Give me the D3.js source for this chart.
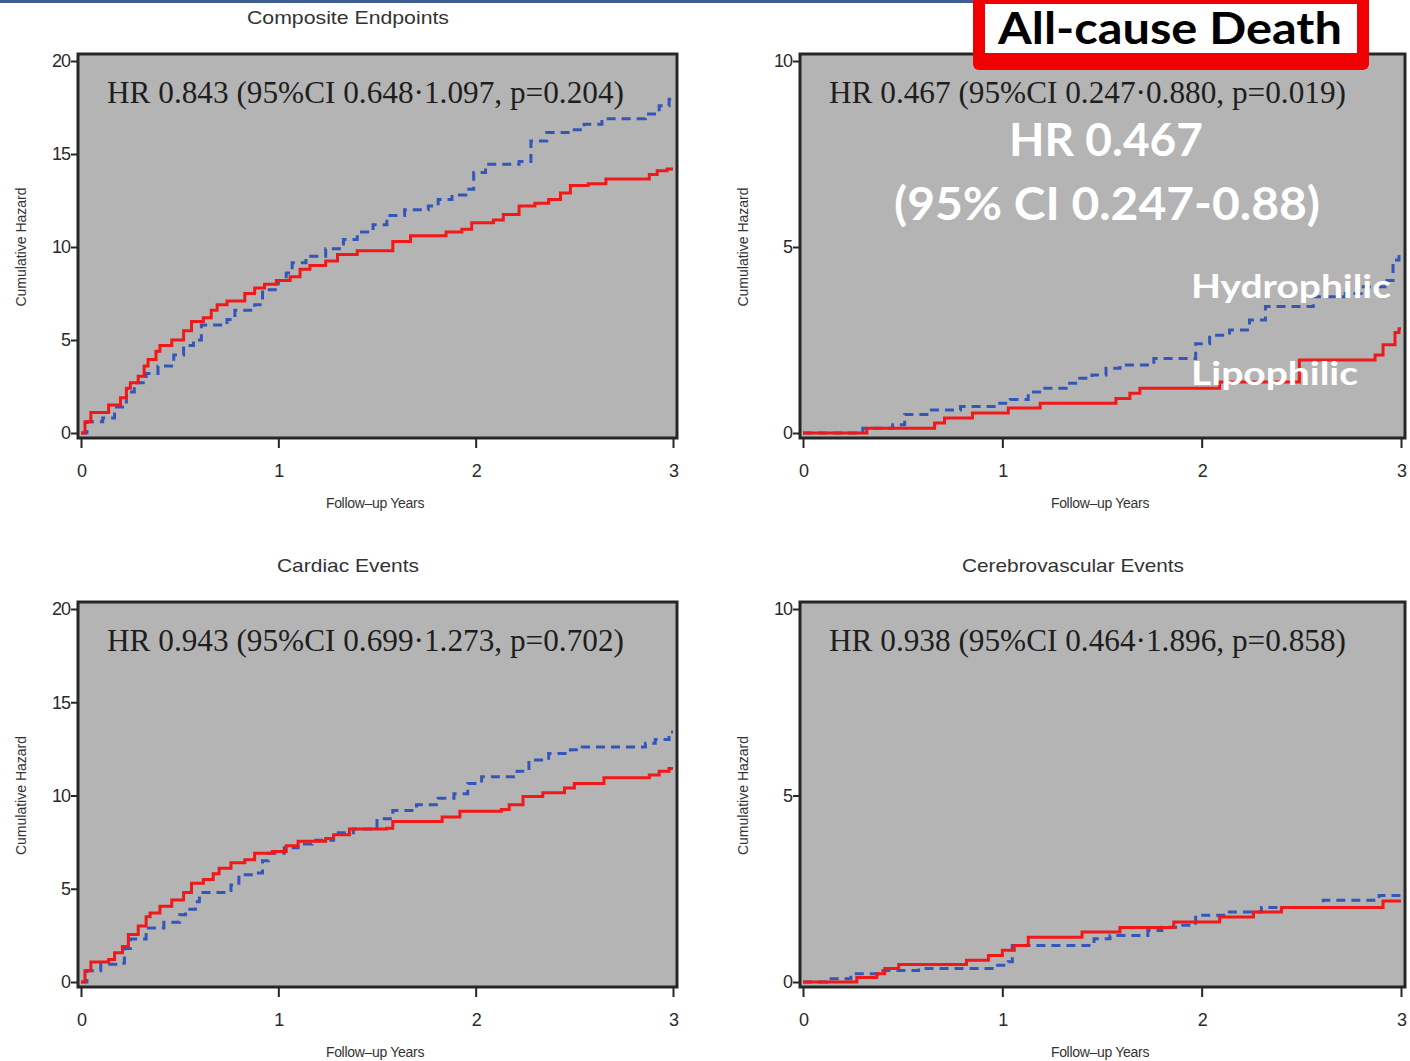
<!DOCTYPE html>
<html>
<head>
<meta charset="utf-8">
<script src="https://cdn.jsdelivr.net/npm/d3@7"></script>
<style>
  body { margin: 0; background: #fff; }
  svg { display: block; }
</style>
</head>
<body>
<div id="chart"></div>
<script>
// ---- data ----
var yearTicks = [0, 1, 2, 3];
var hazardTicks20 = [0, 5, 10, 15, 20];
var hazardTicks10 = [0, 5, 10];

var panelTitles = ["Composite Endpoints", "All-cause Death", "Cardiac Events", "Cerebrovascular Events"];
var hrLabels = [
  "HR 0.843 (95%CI 0.648\u00b71.097, p=0.204)",
  "HR 0.467 (95%CI 0.247\u00b70.880, p=0.019)",
  "HR 0.943 (95%CI 0.699\u00b71.273, p=0.702)",
  "HR 0.938 (95%CI 0.464\u00b71.896, p=0.858)"
];
var overlayLines = ["HR 0.467", "(95% CI 0.247-0.88)"];
var seriesNames = ["Hydrophilic", "Lipophilic"];
var banner = "All-cause Death";

// [year, cumulative hazard] at each step
var compositeLipo = [[0,0],[0.02,0.6],[0.05,1.1],[0.14,1.5],[0.2,1.9],[0.23,2.4],[0.25,2.7],[0.29,3.05],[0.32,3.6],[0.34,3.95],[0.38,4.4],[0.4,4.7],[0.46,5.0],[0.52,5.5],[0.56,6.0],[0.62,6.2],[0.66,6.6],[0.69,6.9],[0.74,7.1],[0.83,7.5],[0.88,7.8],[0.93,8.0],[0.99,8.2],[1.06,8.4],[1.11,8.8],[1.16,9.0],[1.24,9.25],[1.3,9.6],[1.4,9.8],[1.58,10.3],[1.67,10.6],[1.85,10.8],[1.93,10.95],[1.98,11.3],[2.09,11.45],[2.14,11.75],[2.22,12.2],[2.3,12.35],[2.37,12.55],[2.43,12.9],[2.48,13.3],[2.57,13.4],[2.66,13.65],[2.88,13.9],[2.92,14.1],[2.97,14.2],[3.0,14.2]];
var compositeHydro = [[0,0],[0.03,0.6],[0.11,0.8],[0.17,1.4],[0.23,2.2],[0.27,2.7],[0.33,3.2],[0.39,3.6],[0.47,4.2],[0.52,4.7],[0.57,5.0],[0.61,5.8],[0.74,6.1],[0.78,6.6],[0.88,6.9],[0.92,7.7],[1.0,8.2],[1.04,8.6],[1.07,9.15],[1.14,9.5],[1.24,9.9],[1.33,10.4],[1.4,10.8],[1.48,11.2],[1.55,11.7],[1.64,12.0],[1.76,12.2],[1.81,12.55],[1.88,12.8],[1.95,13.1],[1.99,14.0],[2.05,14.45],[2.22,14.6],[2.28,15.7],[2.36,16.15],[2.48,16.3],[2.55,16.6],[2.64,16.9],[2.86,17.15],[2.93,17.6],[2.98,17.95],[3.0,17.95]];

var deathLipo = [[0,0],[0.32,0.13],[0.66,0.27],[0.71,0.4],[0.85,0.54],[1.03,0.67],[1.19,0.8],[1.57,0.93],[1.64,1.07],[1.69,1.2],[2.09,1.37],[2.49,1.96],[2.87,2.1],[2.91,2.37],[2.97,2.7],[2.99,2.8],[3.0,2.8]];
var deathHydro = [[0,0],[0.3,0.13],[0.45,0.22],[0.51,0.5],[0.63,0.62],[0.79,0.71],[0.97,0.8],[1.04,0.9],[1.13,1.1],[1.2,1.2],[1.32,1.34],[1.38,1.47],[1.45,1.56],[1.52,1.74],[1.59,1.83],[1.76,2.0],[1.97,2.4],[2.04,2.63],[2.14,2.77],[2.24,3.04],[2.32,3.4],[2.56,3.66],[2.72,3.75],[2.8,3.93],[2.92,4.1],[2.96,4.65],[2.99,4.85],[3.0,4.85]];

var cardiacLipo = [[0,0],[0.02,0.6],[0.05,1.07],[0.14,1.2],[0.17,1.57],[0.21,1.9],[0.24,2.55],[0.29,3.0],[0.33,3.5],[0.35,3.7],[0.4,4.06],[0.46,4.4],[0.52,4.8],[0.56,5.3],[0.62,5.5],[0.67,5.8],[0.7,6.1],[0.76,6.4],[0.83,6.55],[0.88,6.9],[0.97,7.0],[1.04,7.3],[1.1,7.55],[1.24,7.7],[1.28,7.9],[1.36,8.2],[1.55,8.25],[1.58,8.6],[1.83,8.85],[1.92,9.15],[2.13,9.25],[2.17,9.5],[2.24,9.95],[2.34,10.15],[2.45,10.4],[2.5,10.65],[2.65,10.95],[2.88,11.1],[2.93,11.3],[2.98,11.45],[3.0,11.45]];
var cardiacHydro = [[0,0],[0.03,0.6],[0.1,0.95],[0.19,1.0],[0.22,1.8],[0.25,2.3],[0.33,2.9],[0.42,3.2],[0.5,3.6],[0.53,3.9],[0.58,4.3],[0.6,4.8],[0.76,5.2],[0.8,5.75],[0.88,5.85],[0.92,6.5],[0.95,6.9],[1.03,7.2],[1.1,7.4],[1.17,7.6],[1.28,8.0],[1.38,8.2],[1.5,8.75],[1.58,9.2],[1.7,9.5],[1.81,9.85],[1.89,10.1],[1.96,10.65],[2.03,11.0],[2.21,11.3],[2.27,11.9],[2.37,12.25],[2.48,12.45],[2.54,12.6],[2.86,12.8],[2.91,13.0],[2.98,13.4],[3.0,13.4]];

var cerebroLipo = [[0,0],[0.27,0.12],[0.37,0.22],[0.41,0.36],[0.48,0.47],[0.82,0.58],[0.93,0.71],[1.0,0.85],[1.06,0.98],[1.13,1.2],[1.4,1.34],[1.59,1.46],[1.86,1.61],[2.09,1.74],[2.26,1.88],[2.4,2.0],[2.91,2.17],[3.0,2.17]];
var cerebroHydro = [[0,0],[0.12,0.09],[0.24,0.22],[0.39,0.31],[0.58,0.36],[0.96,0.45],[1.03,0.54],[1.05,0.98],[1.46,1.16],[1.54,1.25],[1.73,1.38],[1.8,1.47],[1.89,1.52],[1.97,1.79],[2.12,1.88],[2.3,2.0],[2.61,2.19],[2.89,2.32],[3.0,2.32]];

// ---- drawing ----
var svgWidth = 1410;
var svgHeight = 1061;

var svg = d3.select("#chart")
  .append("svg")
  .attr("width", svgWidth)
  .attr("height", svgHeight);

var tickFont = "'Liberation Sans', Arial, sans-serif";
var redColor = "#f01818";
var blueColor = "#3456b8";
var panelFill = "#b4b4b4";

// thin slide bar across the top
svg.append("rect")
  .attr("x", 0).attr("y", 0)
  .attr("width", 975).attr("height", 3)
  .attr("fill", "#3e5f8e");

// one panel = frame, axes, two step curves, HR label
function drawPanel(p) {
  var xScale = d3.scaleLinear().domain([0, 3]).range([p.left + 3, p.right - 4]);
  var yScale = d3.scaleLinear().domain([0, p.yMax]).range([p.bottom - 5, p.top + 7]);

  var g = svg.append("g");

  g.append("rect")
    .attr("x", p.left).attr("y", p.top)
    .attr("width", p.right - p.left).attr("height", p.bottom - p.top)
    .attr("fill", panelFill);

  var line = d3.line()
    .x(d => xScale(d[0]))
    .y(d => yScale(d[1]))
    .curve(d3.curveStepAfter);

  g.append("path")
    .datum(p.hydro)
    .attr("d", line)
    .attr("fill", "none")
    .attr("stroke", blueColor)
    .attr("stroke-width", 3)
    .attr("stroke-dasharray", "9,6");

  g.append("path")
    .datum(p.lipo)
    .attr("d", line)
    .attr("fill", "none")
    .attr("stroke", redColor)
    .attr("stroke-width", 3);

  // frame
  g.append("rect")
    .attr("x", p.left).attr("y", p.top)
    .attr("width", p.right - p.left).attr("height", p.bottom - p.top)
    .attr("fill", "none")
    .attr("stroke", "#262626")
    .attr("stroke-width", 3);

  // axes
  var leftAxis = d3.axisLeft(yScale).tickValues(p.yTicks).tickSize(6).tickPadding(1)
    .tickFormat(d3.format("d"));
  var bottomAxis = d3.axisBottom(xScale).tickValues(yearTicks).tickSize(9).tickPadding(16)
    .tickFormat(d3.format("d"));

  var ya = g.append("g")
    .attr("transform", "translate(" + (p.left - 1) + ",0)")
    .call(leftAxis);
  var xa = g.append("g")
    .attr("transform", "translate(0," + (p.bottom + 1) + ")")
    .call(bottomAxis);

  [ya, xa].forEach(function(a) {
    a.select(".domain").remove();
    a.selectAll("line").attr("stroke", "#262626").attr("stroke-width", 2);
    a.selectAll("text")
      .attr("fill", "#2a2a2a")
      .style("font-family", tickFont)
      .style("font-size", "18px")
      .style("letter-spacing", "-1px");
  });

  // axis titles
  g.append("text")
    .attr("x", (xScale(0) + xScale(3)) / 2 - 2)
    .attr("y", p.bottom + 70)
    .attr("text-anchor", "middle")
    .style("font-family", tickFont)
    .style("font-size", "14px")
    .style("letter-spacing", "-0.3px")
    .attr("fill", "#333")
    .text("Follow\u2013up  Years");

  g.append("text")
    .attr("transform", "translate(" + (p.left - 52) + "," + yScale(p.yMax / 2) + ") rotate(-90)")
    .attr("text-anchor", "middle")
    .style("font-family", tickFont)
    .style("font-size", "14px")
    .attr("fill", "#333")
    .text("Cumulative  Hazard");

  if (p.title) {
    g.append("text")
      .attr("x", p.titleX)
      .attr("y", p.top - 30)
      .attr("text-anchor", "middle")
      .style("font-family", tickFont)
      .style("font-size", "19px")
      .attr("fill", "#333")
      .attr("textLength", p.titleLen)
      .attr("lengthAdjust", "spacingAndGlyphs")
      .text(p.title);
  }

  g.append("text")
    .attr("x", p.left + 29)
    .attr("y", p.top + 49)
    .style("font-family", "'Liberation Serif', 'Times New Roman', serif")
    .style("font-size", "31px")
    .attr("fill", "#1e1e1e")
    .attr("textLength", 517)
    .attr("lengthAdjust", "spacingAndGlyphs")
    .text(p.hr);
}

drawPanel({ left: 78, right: 677, top: 54, bottom: 438, yMax: 20, yTicks: hazardTicks20,
  lipo: compositeLipo, hydro: compositeHydro, hr: hrLabels[0],
  title: panelTitles[0], titleX: 348, titleLen: 202 });
drawPanel({ left: 800, right: 1405, top: 54, bottom: 438, yMax: 10, yTicks: hazardTicks10,
  lipo: deathLipo, hydro: deathHydro, hr: hrLabels[1], title: null });
drawPanel({ left: 78, right: 677, top: 602, bottom: 987, yMax: 20, yTicks: hazardTicks20,
  lipo: cardiacLipo, hydro: cardiacHydro, hr: hrLabels[2],
  title: panelTitles[2], titleX: 348, titleLen: 142 });
drawPanel({ left: 800, right: 1405, top: 602, bottom: 987, yMax: 10, yTicks: hazardTicks10,
  lipo: cerebroLipo, hydro: cerebroHydro, hr: hrLabels[3],
  title: panelTitles[3], titleX: 1073, titleLen: 222 });

// white call-outs on the all-cause death panel
var calloutFont = "Lato, 'Open Sans', sans-serif";
function callout(txt, x, y, size, len, anchor) {
  svg.append("text")
    .attr("x", x).attr("y", y)
    .attr("text-anchor", anchor)
    .style("font-family", calloutFont)
    .style("font-weight", "bold")
    .style("font-size", size + "px")
    .attr("fill", "#fff")
    .attr("textLength", len)
    .attr("lengthAdjust", "spacingAndGlyphs")
    .text(txt);
}
callout(overlayLines[0], 1106, 156, 45, 194, "middle");
callout(overlayLines[1], 1107, 220, 45, 426, "middle");
callout(seriesNames[0], 1191, 298, 33, 200, "start");
callout(seriesNames[1], 1191, 385, 33, 167, "start");

// red banner
svg.append("rect")
  .attr("x", 973).attr("y", -14)
  .attr("width", 396).attr("height", 84)
  .attr("rx", 6)
  .attr("fill", "#f00000");
svg.append("rect")
  .attr("x", 985).attr("y", 4)
  .attr("width", 372).attr("height", 49)
  .attr("fill", "#fff");
svg.append("text")
  .attr("x", 998).attr("y", 44)
  .style("font-family", calloutFont)
  .style("font-weight", "bold")
  .style("font-size", "44px")
  .attr("fill", "#000")
  .attr("textLength", 344)
  .attr("lengthAdjust", "spacingAndGlyphs")
  .text(banner);
</script>
</body>
</html>
